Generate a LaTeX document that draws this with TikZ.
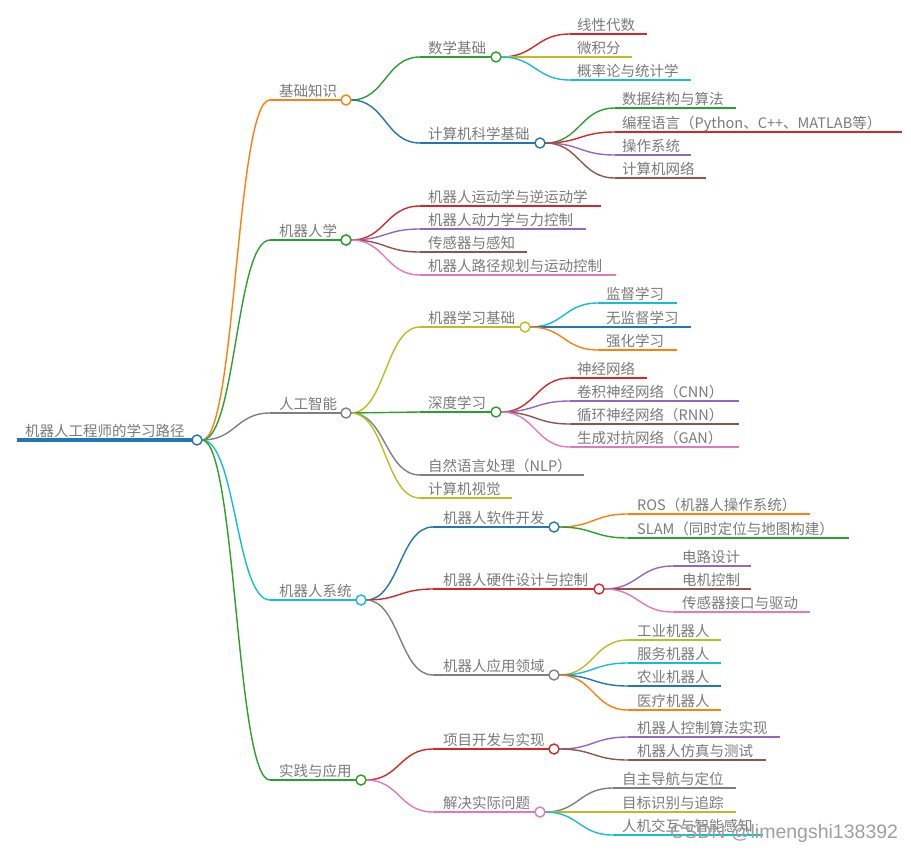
\documentclass[tikz,border=0pt]{standalone}
\usepackage{fontspec}
\newfontfamily\cjk{Noto Sans CJK SC}
\newfontfamily\wmfont{Liberation Sans}
\usetikzlibrary{calc}
\definecolor{cblue}{HTML}{1F77B4}
\definecolor{corange}{HTML}{FF7F0E}
\definecolor{cgreen}{HTML}{2CA02C}
\definecolor{cred}{HTML}{D62728}
\definecolor{cpurple}{HTML}{9467BD}
\definecolor{cbrown}{HTML}{8C564B}
\definecolor{cpink}{HTML}{E377C2}
\definecolor{cgray}{HTML}{7F7F7F}
\definecolor{colive}{HTML}{BCBD22}
\definecolor{ccyan}{HTML}{17BECF}
\definecolor{txtgray}{HTML}{7A7A7A}
% name, colour, line start x, text x, line end x, y, text
\newcommand\mmline[7]{%
  \coordinate (#1-s) at (#3,#6);
  \coordinate (#1-e) at (#5,#6);
  \draw[branch,#2] (#1-s) -- (#1-e);
  \node[lbl] (#1) at (#4,#6-4) {#7};}
% colour, parent, child
\newcommand\mmlink[3]{%
  \draw[branch,#1] let \p1=([xshift=5pt]#2-e), \p2=(#3-s) in
    (\p1) .. controls ({(\x1+\x2)/2},\y1) and ({(\x1+\x2)/2},\y2) .. (\p2);}
% name, colour
\newcommand\mmdot[2]{\node[dot,draw=#2] (#1-c) at (#1-e) {};}
\begin{document}
\begin{tikzpicture}[x=1pt,y=-1pt,
  branch/.style={line width=1.4pt},
  lbl/.style={font=\cjk\fontsize{14.5}{17}\selectfont, text=txtgray, inner sep=0pt, anchor=base west},
  dot/.style={circle, fill=white, line width=1.4pt, inner sep=0pt, minimum size=10pt}]
\useasboundingbox (0,0) rectangle (911,852);

% root
\coordinate (root-s) at (17,440);
\coordinate (root-e) at (197,440);
\draw[cblue,line width=3.2pt] (root-s) -- (root-e);
\node[lbl] (root) at (25,436) {机器人工程师的学习路径};

% level 1
\mmline{a}{corange}{270}{279}{346}{100}{基础知识}
\mmline{b}{cgreen}{270}{279}{346}{240}{机器人学}
\mmline{c}{cgray}{270}{279}{346}{413}{人工智能}
\mmline{d}{ccyan}{270}{279}{361}{600}{机器人系统}
\mmline{e}{cgreen}{270}{279}{361}{780}{实践与应用}
\mmlink{corange}{root}{a}
\mmlink{cgreen}{root}{b}
\mmlink{cgray}{root}{c}
\mmlink{ccyan}{root}{d}
\mmlink{cgreen}{root}{e}

% 基础知识
\mmline{a1}{cgreen}{420}{428}{496}{57}{数学基础}
\mmline{a2}{cblue}{420}{428}{540}{143}{计算机科学基础}
\mmlink{cgreen}{a}{a1}
\mmlink{cblue}{a}{a2}
\mmline{a11}{cred}{570}{577}{647}{34}{线性代数}
\mmline{a12}{colive}{570}{577}{632}{57}{微积分}
\mmline{a13}{ccyan}{570}{577}{691}{80}{概率论与统计学}
\mmlink{cred}{a1}{a11}
\mmlink{colive}{a1}{a12}
\mmlink{ccyan}{a1}{a13}
\mmline{a21}{cgreen}{615}{622}{736}{108}{数据结构与算法}
\mmline{a22}{cred}{615}{622}{902}{132}{编程语言（Python、C++、MATLAB等）}
\mmline{a23}{cpurple}{615}{622}{691}{155}{操作系统}
\mmline{a24}{cbrown}{615}{622}{706}{178}{计算机网络}
\mmlink{cgreen}{a2}{a21}
\mmlink{cred}{a2}{a22}
\mmlink{cpurple}{a2}{a23}
\mmlink{cbrown}{a2}{a24}

% 机器人学
\mmline{b1}{cred}{420}{428}{601}{206}{机器人运动学与逆运动学}
\mmline{b2}{cpurple}{420}{428}{586}{229}{机器人动力学与力控制}
\mmline{b3}{cbrown}{420}{428}{527}{252}{传感器与感知}
\mmline{b4}{cpink}{420}{428}{616}{275}{机器人路径规划与运动控制}
\mmlink{cred}{b}{b1}
\mmlink{cpurple}{b}{b2}
\mmlink{cbrown}{b}{b3}
\mmlink{cpink}{b}{b4}

% 人工智能
\mmline{c1}{colive}{420}{428}{525}{327}{机器学习基础}
\mmline{c2}{cgreen}{420}{428}{496}{412}{深度学习}
\mmline{c3}{cgray}{420}{428}{584}{475}{自然语言处理（NLP）}
\mmline{c4}{colive}{420}{428}{512}{498}{计算机视觉}
\mmlink{colive}{c}{c1}
\mmlink{cgreen}{c}{c2}
\mmlink{cgray}{c}{c3}
\mmlink{colive}{c}{c4}
\mmline{c11}{ccyan}{598}{606}{677}{303}{监督学习}
\mmline{c12}{cblue}{598}{606}{691}{327}{无监督学习}
\mmline{c13}{corange}{598}{606}{677}{350}{强化学习}
\mmlink{ccyan}{c1}{c11}
\mmlink{cblue}{c1}{c12}
\mmlink{corange}{c1}{c13}
\mmline{c21}{cred}{570}{577}{647}{378}{神经网络}
\mmline{c22}{cpurple}{570}{577}{739}{401}{卷积神经网络（CNN）}
\mmline{c23}{cbrown}{570}{577}{739}{424}{循环神经网络（RNN）}
\mmline{c24}{cpink}{570}{577}{739}{447}{生成对抗网络（GAN）}
\mmlink{cred}{c2}{c21}
\mmlink{cpurple}{c2}{c22}
\mmlink{cbrown}{c2}{c23}
\mmlink{cpink}{c2}{c24}

% 机器人系统
\mmline{d1}{cblue}{433}{443}{554}{527}{机器人软件开发}
\mmline{d2}{cred}{433}{443}{599}{589}{机器人硬件设计与控制}
\mmline{d3}{cgray}{433}{443}{554}{675}{机器人应用领域}
\mmlink{cblue}{d}{d1}
\mmlink{cred}{d}{d2}
\mmlink{cgray}{d}{d3}
\mmline{d11}{corange}{628}{637}{810}{514}{ROS（机器人操作系统）}
\mmline{d12}{cgreen}{628}{637}{849}{538}{SLAM（同时定位与地图构建）}
\mmlink{corange}{d1}{d11}
\mmlink{cgreen}{d1}{d12}
\mmline{d21}{cpurple}{673}{682}{751}{566}{电路设计}
\mmline{d22}{cbrown}{673}{682}{751}{589}{电机控制}
\mmline{d23}{cpink}{673}{682}{810}{612}{传感器接口与驱动}
\mmlink{cpurple}{d2}{d21}
\mmlink{cbrown}{d2}{d22}
\mmlink{cpink}{d2}{d23}
\mmline{d31}{colive}{628}{637}{721}{640}{工业机器人}
\mmline{d32}{ccyan}{628}{637}{721}{663}{服务机器人}
\mmline{d33}{cblue}{628}{637}{721}{686}{农业机器人}
\mmline{d34}{corange}{628}{637}{721}{710}{医疗机器人}
\mmlink{colive}{d3}{d31}
\mmlink{ccyan}{d3}{d32}
\mmlink{cblue}{d3}{d33}
\mmlink{corange}{d3}{d34}

% 实践与应用
\mmline{e1}{cred}{433}{443}{554}{749}{项目开发与实现}
\mmline{e2}{cpink}{433}{443}{540}{812}{解决实际问题}
\mmlink{cred}{e}{e1}
\mmlink{cpink}{e}{e2}
\mmline{e11}{cpurple}{628}{637}{780}{737}{机器人控制算法实现}
\mmline{e12}{cbrown}{628}{637}{766}{760}{机器人仿真与测试}
\mmlink{cpurple}{e1}{e11}
\mmlink{cbrown}{e1}{e12}
\mmline{e21}{cgray}{613}{622}{736}{788}{自主导航与定位}
\mmline{e22}{colive}{613}{622}{736}{812}{目标识别与追踪}
\mmline{e23}{ccyan}{613}{622}{763}{835}{人机交互与智能感知}
\mmlink{cgray}{e2}{e21}
\mmlink{colive}{e2}{e22}
\mmlink{ccyan}{e2}{e23}

% dots
\mmdot{root}{cblue}
\mmdot{a}{corange}\mmdot{b}{cgreen}\mmdot{c}{cgray}\mmdot{d}{ccyan}\mmdot{e}{cgreen}
\mmdot{a1}{cgreen}\mmdot{a2}{cblue}
\mmdot{b}{cgreen}
\mmdot{c1}{colive}\mmdot{c2}{cgreen}
\mmdot{d1}{cblue}\mmdot{d2}{cred}\mmdot{d3}{cgray}
\mmdot{e1}{cred}\mmdot{e2}{cpink}

% watermark
\node[font=\wmfont\fontsize{19.5}{21}\selectfont, text=gray!75, inner sep=0pt, anchor=base west] (wm) at (670,838) {CSDN @limengshi138392};
\end{tikzpicture}
\end{document}
